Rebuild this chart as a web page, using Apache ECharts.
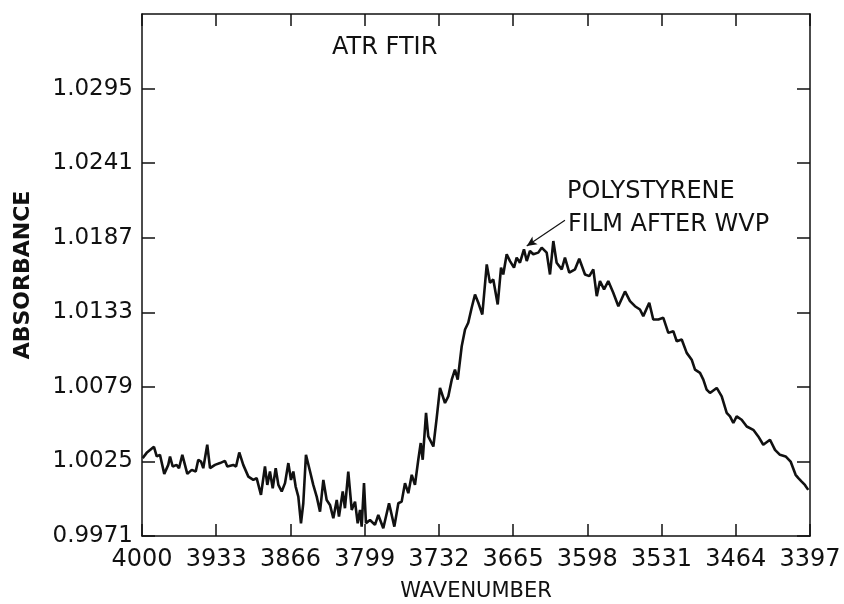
<!DOCTYPE html>
<html>
<head>
<meta charset="utf-8">
<script src="https://cdn.jsdelivr.net/npm/echarts@6/dist/echarts.min.js"></script>
<style>
html,body{margin:0;padding:0;background:#fff;}
#chart{width:844px;height:604px;}
</style>
</head>
<body>
<div id="chart"></div>
<script>
// Wavenumbers (cm^-1)
const wavenumber = [
3999.4,3995.8,3989.2,3986.7,3983.8,3979.9,3976.3,3974.7,3972.3,3968.7,
3966.6,3963.6,3959.1,3955.1,3951.5,3949.2,3946.7,3944.7,3941.1,3938.6,
3934.1,3929.6,3925.1,3923.0,3917.6,3915.1,3912.2,3908.6,3904.0,3899.5,
3896.5,3892.6,3889.0,3886.9,3884.5,3882.0,3879.3,3876.9,3873.9,3870.9,
3867.9,3865.5,3863.4,3861.3,3858.9,3856.5,3854.4,3852.0,3848.3,3845.4,
3842.3,3839.3,3836.3,3833.3,3830.3,3827.3,3824.2,3822.2,3818.8,3816.8,
3813.8,3810.7,3807.7,3805.3,3803.2,3801.7,3799.6,3797.8,3794.2,3789.7,
3786.7,3782.2,3777.0,3772.2,3768.6,3765.6,3762.6,3759.6,3756.5,3753.6,
3750.6,3748.4,3746.6,3743.6,3741.6,3737.0,3734.0,3731.0,3726.5,3723.5,
3720.4,3717.5,3715.0,3711.4,3708.4,3705.5,3702.4,3699.4,3696.4,3692.8,
3688.8,3685.9,3682.9,3678.9,3675.9,3673.9,3670.8,3667.8,3664.2,3661.8,
3658.8,3655.2,3652.7,3649.8,3646.8,3642.3,3639.2,3634.7,3631.7,3628.7,
3625.7,3621.1,3618.2,3614.3,3609.1,3605.3,3600.1,3596.2,3592.6,3589.5,
3586.6,3582.9,3579.1,3574.6,3570.0,3564.0,3559.5,3555.0,3550.5,3547.5,
3542.1,3538.5,3533.9,3529.4,3524.9,3520.4,3517.3,3512.8,3508.3,3503.8,
3500.8,3496.3,3493.3,3490.3,3487.3,3481.2,3476.7,3472.2,3469.2,3466.2,
3463.2,3458.7,3454.1,3448.2,3443.7,3439.2,3433.1,3428.6,3424.1,3419.0,
3414.5,3410.0,3407.5,3404.5,3401.6,3398.6
];
// Absorbance values
const absorbance = [
1.00274,1.00312,1.00356,1.00286,1.00298,1.00160,1.00225,1.00286,1.00213,1.00225,
1.00201,1.00298,1.00160,1.00189,1.00177,1.00262,1.00249,1.00201,1.00371,1.00201,
1.00225,1.00238,1.00254,1.00213,1.00225,1.00213,1.00315,1.00225,1.00140,1.00116,
1.00129,1.00008,1.00213,1.00080,1.00177,1.00056,1.00201,1.00080,1.00032,1.00093,
1.00238,1.00116,1.00177,1.00068,0.99995,0.99802,0.99947,1.00298,1.00177,1.00080,
0.99995,0.99886,1.00116,0.99971,0.99935,0.99839,0.99971,0.99850,1.00032,0.99911,
1.00177,0.99899,0.99959,0.99802,0.99899,0.99778,1.00093,0.99802,0.99826,0.99790,
0.99862,0.99766,0.99947,0.99778,0.99947,0.99959,1.00093,1.00020,1.00153,1.00080,
1.00262,1.00383,1.00262,1.00601,1.00431,1.00358,1.00564,1.00782,1.00673,1.00721,
1.00842,1.00915,1.00842,1.01084,1.01205,1.01254,1.01363,1.01459,1.01399,1.01314,
1.01677,1.01544,1.01568,1.01387,1.01653,1.01604,1.01750,1.01701,1.01653,1.01726,
1.01689,1.01786,1.01701,1.01774,1.01750,1.01762,1.01798,1.01762,1.01604,1.01846,
1.01689,1.01641,1.01726,1.01617,1.01641,1.01718,1.01604,1.01592,1.01641,1.01447,
1.01556,1.01496,1.01556,1.01472,1.01374,1.01481,1.01411,1.01374,1.01350,1.01302,
1.01399,1.01278,1.01278,1.01290,1.01181,1.01193,1.01120,1.01133,1.01036,1.00987,
1.00915,1.00891,1.00842,1.00770,1.00746,1.00782,1.00721,1.00601,1.00576,1.00528,
1.00576,1.00552,1.00503,1.00479,1.00431,1.00371,1.00407,1.00334,1.00298,1.00286,
1.00249,1.00153,1.00129,1.00104,1.00080,1.00044
];
const xTicks = [4000,3933,3866,3799,3732,3665,3598,3531,3464,3397];
const yTicks = [0.9971,1.0025,1.0079,1.0133,1.0187,1.0241,1.0295];
const xRange = [3397, 4000];
const yRange = [0.9971, 1.0349];
const arrowFrom = [3618.2, 1.01996];
const arrowTo = [3652.7, 1.01810];

const FONT = '"DejaVu Sans", "Liberation Sans", sans-serif';
const INK = '#111';

const chart = echarts.init(document.getElementById('chart'), null, {renderer: 'canvas'});
const seriesData = wavenumber.map((w, i) => [w, absorbance[i]]);

function xAxisCfg(pos, show) {
  return {
    type: 'value', position: pos, inverse: true,
    min: xRange[0], max: xRange[1],
    axisLine: {show: true, onZero: false, lineStyle: {color: INK, width: 1.5}},
    axisTick: {show: true, inside: true, length: 12, customValues: xTicks, lineStyle: {color: INK, width: 1.5}},
    axisLabel: show ? {show: true, customValues: xTicks, fontFamily: FONT, fontSize: 24, color: INK, margin: 12,
      formatter: v => String(Math.round(v))} : {show: false},
    splitLine: {show: false}
  };
}
function yAxisCfg(pos, show) {
  return {
    type: 'value', position: pos,
    min: yRange[0], max: yRange[1],
    axisLine: {show: true, onZero: false, lineStyle: {color: INK, width: 1.5}},
    axisTick: {show: true, inside: true, length: 13, customValues: yTicks, lineStyle: {color: INK, width: 1.5}},
    axisLabel: show ? {show: true, customValues: yTicks, fontFamily: FONT, fontSize: 23, color: INK, margin: 9,
      formatter: v => v.toFixed(4)} : {show: false},
    splitLine: {show: false}
  };
}

const xb = xAxisCfg('bottom', true);
xb.name = 'WAVENUMBER';
xb.nameLocation = 'middle';
xb.nameGap = 45;
xb.nameTextStyle = {fontFamily: FONT, fontSize: 21, color: INK};
const yl = yAxisCfg('left', true);
yl.name = 'ABSORBANCE';
yl.nameLocation = 'middle';
yl.nameGap = 108;
yl.nameRotate = 90;
yl.nameTextStyle = {fontFamily: FONT, fontSize: 22, color: INK, fontWeight: 'bold'};

chart.setOption({
  animation: false,
  backgroundColor: '#fff',
  grid: {left: 142, right: 34, top: 14, bottom: 68, outerBoundsMode: 'none', containLabel: false},
  xAxis: [xb, xAxisCfg('top', false)],
  yAxis: [yl, yAxisCfg('right', false)],
  graphic: [
    {type: 'text', style: {text: 'ATR FTIR', x: 332, y: 48, font: '24px ' + FONT, fill: INK, textVerticalAlign: 'middle'}},
    {type: 'text', style: {text: 'POLYSTYRENE', x: 567, y: 192, font: '24px ' + FONT, fill: INK, textVerticalAlign: 'middle'}},
    {type: 'text', style: {text: 'FILM AFTER WVP', x: 568, y: 225, font: '24px ' + FONT, fill: INK, textVerticalAlign: 'middle'}}
  ],
  series: [{
    type: 'line',
    data: seriesData,
    xAxisIndex: 0, yAxisIndex: 0,
    showSymbol: false, symbol: 'none',
    lineStyle: {color: INK, width: 2.6},
    silent: true,
    markLine: {
      silent: true,
      symbol: ['none', 'arrow'],
      symbolSize: [7, 10],
      label: {show: false},
      lineStyle: {color: INK, width: 1.2, type: 'solid'},
      data: [[{coord: arrowFrom}, {coord: arrowTo}]]
    }
  }]
});
</script>
</body>
</html>
